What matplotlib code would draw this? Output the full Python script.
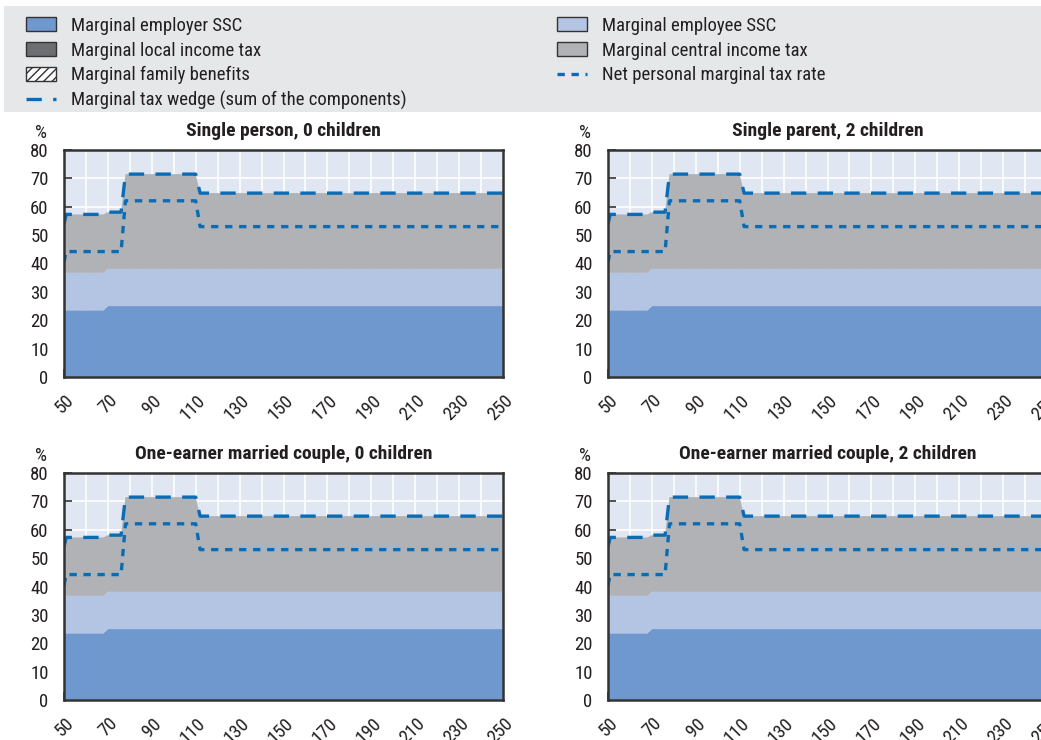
import matplotlib
matplotlib.use("Agg")
import matplotlib.pyplot as plt
from matplotlib import font_manager
from matplotlib.patches import Patch, Rectangle
from matplotlib.lines import Line2D
import matplotlib.transforms as mtransforms
import numpy as np

# condensed sans face with a real bold weight, if one is installed
_weights = {}
for _f in font_manager.fontManager.ttflist:
    _weights.setdefault(_f.name, set()).add(_f.weight)
_prefs = ['Liberation Sans Narrow', 'Roboto Condensed', 'Archivo Narrow', 'PT Sans Narrow',
          'Fira Sans Condensed', 'IBM Plex Sans Condensed', 'Encode Sans Condensed',
          'Asap Condensed', 'Open Sans Condensed']
_family = 'Liberation Sans'
for _n in _prefs:
    if _n in _weights and any(isinstance(w, int) and w >= 700 for w in _weights[_n]) \
            and any(isinstance(w, int) and w <= 400 for w in _weights[_n]):
        _family = _n
        break
plt.rcParams['font.family'] = [_family, 'DejaVu Sans']

# Gross earnings as % of average wage (breakpoints of the schedule)
income = [50, 51, 68, 70, 76, 78, 110, 112, 250]
employer_ssc = [23.5, 23.5, 23.5, 25.0, 25.0, 25.0, 25.0, 25.0, 25.0]
employee_ssc = [13.2, 13.2, 13.2, 13.1, 13.1, 13.1, 13.1, 13.1, 13.1]
local_tax = [0, 0, 0, 0, 0, 0, 0, 0, 0]
family_benefits = [0, 0, 0, 0, 0, 0, 0, 0, 0]
tax_wedge = [54.0, 57.3, 57.3, 58.1, 58.1, 71.5, 71.5, 64.8, 64.8]
net_personal = [40.5, 44.2, 44.2, 44.2, 44.2, 62.1, 62.1, 53.0, 53.0]

panel_titles = ["Single person, 0 children", "Single parent, 2 children",
                "One-earner married couple, 0 children", "One-earner married couple, 2 children"]

xticks_major = list(range(50, 251, 20))
yticks = list(range(0, 81, 10))

C_EMPLOYER = '#6f98cf'
C_EMPLOYEE = '#b3c5e3'
C_CENTRAL = '#b1b2b5'
C_LOCAL = '#6d6e71'
C_LINE = '#0b6cb6'
C_BG = '#e0e7f3'
C_TEXT = '#231f20'

W, H = 1041, 740
fig = plt.figure(figsize=(W / 100, H / 100), dpi=100)

# legend band
fig.patches.append(Rectangle((4 / W, 1 - 112 / H), 1 - 4 / W, 106 / H, transform=fig.transFigure,
                             facecolor='#e6e7e9', edgecolor='none', zorder=0))

x = np.array(income)
emp = np.array(employer_ssc)
ee = np.array(employee_ssc)
loc = np.array(local_tax)
wedge = np.array(tax_wedge)
central = wedge - emp - ee - loc

axes_px = [(64, 150), (608, 150), (64, 473), (608, 473)]
ax_w, ax_h = 439, 227
label_shift = mtransforms.ScaledTranslation(7 / 100, 0, fig.dpi_scale_trans)

for (px, py), title in zip(axes_px, panel_titles):
    ax = fig.add_axes([px / W, 1 - (py + ax_h) / H, ax_w / W, ax_h / H])
    ax.set_facecolor(C_BG)
    ax.stackplot(x, emp, ee, loc, central, colors=[C_EMPLOYER, C_EMPLOYEE, C_LOCAL, C_CENTRAL],
                 linewidth=0, zorder=2)
    ax.plot(x, wedge, color=C_LINE, lw=2.4, dashes=(4.6, 3.4), zorder=4)
    ax.plot(x, net_personal, color=C_LINE, lw=2.4, dashes=(2.2, 2.0), zorder=4)
    ax.set_xlim(50, 250)
    ax.set_ylim(0, 80)
    ax.set_xticks(xticks_major)
    ax.set_xticks(list(range(60, 250, 20)), minor=True)
    ax.set_yticks(yticks)
    ax.grid(True, which='both', axis='x', color='white', lw=1.2, zorder=1)
    ax.grid(True, which='major', axis='y', color='white', lw=1.2, zorder=1)
    ax.set_axisbelow(True)
    ax.tick_params(axis='both', which='both', direction='in', length=6, width=1.2,
                   color='#333333', labelsize=13.5, labelcolor=C_TEXT)
    ax.tick_params(axis='x', which='both', top=False, pad=15)
    ax.tick_params(axis='y', right=False, pad=11)
    for lab in ax.get_xticklabels():
        lab.set_rotation(45)
        lab.set_ha('right')
        lab.set_va('center')
        lab.set_rotation_mode('anchor')
        lab.set_transform(lab.get_transform() + label_shift)
    for s in ax.spines.values():
        s.set_color('#333333')
        s.set_linewidth(1.8)
        s.set_zorder(5)
    ax.set_title(title, fontsize=14, fontweight='bold', color=C_TEXT, pad=10)
    ax.text(-0.052, 1.035, '%', transform=ax.transAxes, fontsize=13.5, color=C_TEXT,
            ha='center', va='bottom')

handles = [
    Patch(facecolor=C_EMPLOYER, edgecolor='#333333', lw=1),
    Patch(facecolor=C_LOCAL, edgecolor='#333333', lw=1),
    Patch(facecolor='white', edgecolor='#333333', hatch='////', lw=1),
    Line2D([0], [0], color=C_LINE, lw=2.4, dashes=(4.6, 3.4)),
    Patch(facecolor=C_EMPLOYEE, edgecolor='#333333', lw=1),
    Patch(facecolor=C_CENTRAL, edgecolor='#333333', lw=1),
    Line2D([0], [0], color=C_LINE, lw=2.4, dashes=(2.2, 2.0)),
]
labels = ["Marginal employer SSC", "Marginal local income tax", "Marginal family benefits",
          "Marginal tax wedge (sum of the components)", "Marginal employee SSC",
          "Marginal central income tax", "Net personal marginal tax rate"]
fig.legend(handles, labels, loc='upper left', bbox_to_anchor=(9 / W, 1.0), ncol=2,
           frameon=False, fontsize=13.5, handlelength=1.6, handleheight=0.75, handletextpad=0.8,
           labelspacing=0.36, columnspacing=8.05, labelcolor=C_TEXT)

fig.savefig('out.png', dpi=100)
